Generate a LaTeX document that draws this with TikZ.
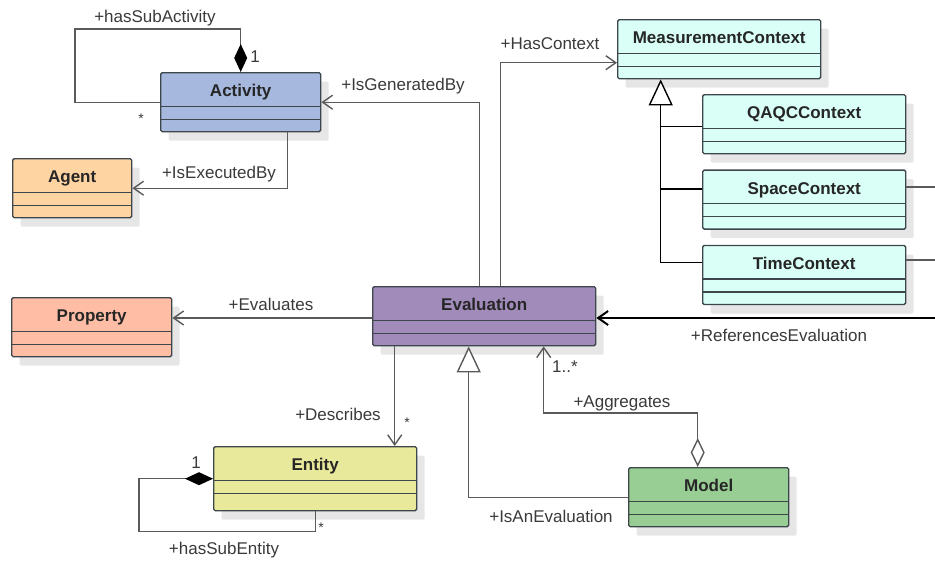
\documentclass[tikz,border=0pt]{standalone}
\usepackage{fontspec}
\setmainfont{Liberation Sans}
\usetikzlibrary{positioning,arrows.meta,shadows}

\definecolor{actfill}{HTML}{A6B8DE}
\definecolor{agentfill}{HTML}{FFD4A3}
\definecolor{propfill}{HTML}{FFBDA6}
\definecolor{evalfill}{HTML}{A18BBA}
\definecolor{ctxfill}{HTML}{D9FFF6}
\definecolor{entfill}{HTML}{E9E99B}
\definecolor{modelfill}{HTML}{98CE93}
\definecolor{classedge}{HTML}{3C464B}
\definecolor{linecol}{HTML}{5A5A5A}
\definecolor{labelcol}{HTML}{3A3A3A}
\definecolor{shadowcol}{HTML}{E6E6E6}

\begin{document}
\begin{tikzpicture}[x=1pt, y=-1pt,
    umlclass/.style={draw=classedge, line width=1.4pt, rounded corners=1.5pt, anchor=north west,
        minimum height=59pt, inner sep=0pt, text height=12pt, text depth=23pt,
        font=\fontsize{17}{19}\selectfont\bfseries, text=black!85,
        general shadow={shadow xshift=8pt, shadow yshift=-9pt, fill=shadowcol},
        path picture={\draw[classedge, line width=1.4pt]
            ([yshift=-33.5pt]path picture bounding box.north west) -- ([yshift=-33.5pt]path picture bounding box.north east)
            ([yshift=-46.5pt]path picture bounding box.north west) -- ([yshift=-46.5pt]path picture bounding box.north east);}},
    ctx/.style={umlclass, fill=ctxfill, minimum width=203pt},
    lbl/.style={font=\fontsize{17}{19}\selectfont, text=labelcol, inner sep=0pt, text height=12pt, text depth=0pt},
    star/.style={lbl, font=\fontsize{14}{16}\selectfont},
    conn/.style={draw=linecol, line width=1.4pt},
    assoc/.style={conn, -{Straight Barb[length=10pt,width=14pt]}},
    inh/.style={conn, -{Triangle[length=26pt,width=24pt,fill=white]}},
    comp/.style={conn, {Diamond[length=28pt,width=13pt,color=black,fill=black]}-},
    aggr/.style={conn, {Diamond[length=29pt,width=14pt,fill=white]}-{Straight Barb[length=10pt,width=14pt]}}]
    \useasboundingbox (0,0) rectangle (935,560);

    \node[umlclass, fill=actfill, minimum width=160pt] (activity) at (160,72) {Activity};
    \node[umlclass, fill=agentfill, minimum width=119pt] (agent) at (12,158) {Agent};
    \node[umlclass, fill=propfill, minimum width=160pt] (property) at (11,297) {Property};
    \node[umlclass, fill=evalfill, minimum width=223pt] (evaluation) at (372,286) {Evaluation};
    \node[ctx] (measurement) at (617,19) {MeasurementContext};
    \node[ctx] (qaqc) at (702,94) {QAQCContext};
    \node[ctx, below=15pt of qaqc] (space) {SpaceContext};
    \node[ctx, below=15pt of space] (time) {TimeContext};
    \node[umlclass, fill=entfill, minimum width=203pt, minimum height=64pt, text depth=28pt] (entity) at (213,446) {Entity};
    \node[umlclass, fill=modelfill, minimum width=160pt] (model) at (628,467) {Model};

    \coordinate (spaceout) at (940,187);
    \coordinate (timeout) at (940,260);
    \coordinate (refout) at (940,318);

    \draw[comp] (activity.north) -- ++(0,-43) -| ([xshift=-85pt]activity.west) -- (activity.west);
    \draw[assoc] ([xshift=47pt]activity.south) |- (agent.east);
    \draw[assoc] ([xshift=-4.5pt]evaluation.north) |- (activity.east);
    \draw[assoc] ([xshift=16.5pt]evaluation.north) |- ([yshift=-13.5pt]measurement.west);
    \draw[inh, draw=black] ([yshift=12.5pt]time.west) -| ([xshift=-58.5pt]measurement.south);
    \draw[conn, draw=black] ([yshift=-2.5pt]qaqc.west) -- ++(-42,0);
    \draw[conn, draw=black] ([yshift=10.5pt]space.west) -- ++(-42,0);
    \draw[conn] (space.east |- spaceout) -- (spaceout);
    \draw[conn] (time.east |- timeout) -- (timeout);
    \draw[assoc, draw=black, line width=2pt] (refout) -- (evaluation.east |- refout);
    \draw[assoc] (evaluation.west |- refout) -- (property.east |- refout);
    \draw[assoc] ([xshift=-89.5pt]evaluation.south) -- ([xshift=79.5pt]entity.north);
    \draw[inh] (model.west) -| ([xshift=-15.5pt]evaluation.south);
    \draw[aggr] ([xshift=-11pt]model.north) -- ++(0,-54) -| ([xshift=59.5pt]evaluation.south);
    \draw[comp] (entity.west) -- ++(-74,0) -- ++(0,53) -| (entity.south);

    \node[lbl] (subactlbl) at (155,16) {+hasSubActivity};
    \node[lbl] (subactone) at (255,56) {1};
    \node[star] (subactmany) at (141,117) {*};
    \node[lbl] (execlbl) at (219,172) {+IsExecutedBy};
    \node[lbl] (genlbl) at (403,84) {+IsGeneratedBy};
    \node[lbl] (ctxlbl) at (550,43) {+HasContext};
    \node[lbl] (evallbl) at (271,304) {+Evaluates};
    \node[lbl] (reflbl) at (779,335) {+ReferencesEvaluation};
    \node[lbl] (aggmany) at (565,366) {1..*};
    \node[lbl] (agglbl) at (622,401) {+Aggregates};
    \node[lbl] (isalbl) at (551,516) {+IsAnEvaluation};
    \node[lbl] (desclbl) at (338,414) {+Describes};
    \node[star] (descmany) at (407,421) {*};
    \node[lbl] (subentone) at (196,462) {1};
    \node[star] (subentmany) at (321,526) {*};
    \node[lbl] (subentlbl) at (224,548) {+hasSubEntity};
\end{tikzpicture}
\end{document}
